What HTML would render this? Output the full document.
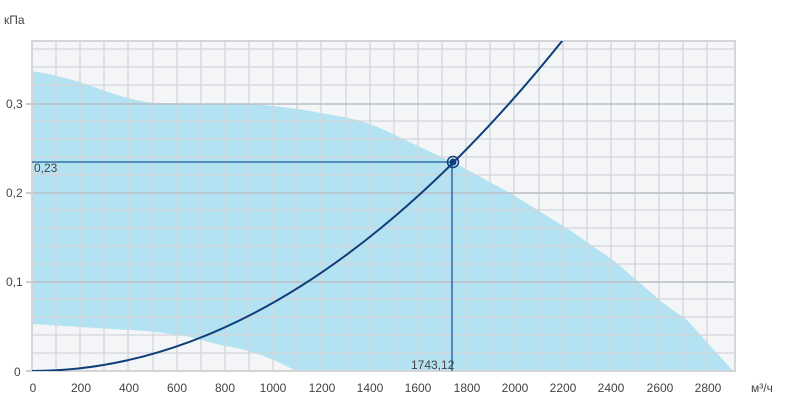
<!DOCTYPE html><html><head><meta charset="utf-8"><style>body{margin:0;background:#fff}svg{display:block;font-family:"Liberation Sans",sans-serif}</style></head><body>
<svg width="785" height="401" viewBox="0 0 785 401">
<rect x="32" y="41" width="703" height="330" fill="#f4f5f7"/>
<defs><clipPath id="c"><rect x="32" y="41" width="703" height="330"/></clipPath></defs>
<path d="M32,71 C60,76 75,80 100,89 C120,96 135,101 153,103 L249,104 C280,106 300,109 321,113 C345,117 360,120 375,126 C395,134 420,148 455,163 L510,193 L565,227 L613,260 L640,283 L663,303 L687,320 L733,371 L297,371 C285,366 280,362 273,360 C255,352 240,348 225,346 C200,340 190,336 177,335 C150,331 135,330 128,330 L80,327 L32,324 Z" fill="#b3e3f2"/>
<g stroke="#d3d5d9" stroke-width="1.3">
<path d="M56,41V371M80,41V371M104,41V371M128,41V371M153,41V371M177,41V371M201,41V371M225,41V371M249,41V371M273,41V371M297,41V371M321,41V371M346,41V371M370,41V371M394,41V371M418,41V371M442,41V371M466,41V371M490,41V371M514,41V371M539,41V371M563,41V371M587,41V371M611,41V371M635,41V371M659,41V371M683,41V371M707,41V371"/>
<path d="M32,49H735M32,67H735M32,85H735M32,121H735M32,139H735M32,157H735M32,175H735M32,210H735M32,228H735M32,246H735M32,264H735M32,299H735M32,317H735M32,335H735M32,353H735"/>
</g>
<g stroke="#b9bec6" stroke-width="1.5"><path d="M26,104H735M26,193H735M26,282H735M26,371H735"/></g>
<rect x="32" y="41" width="703" height="330" fill="none" stroke="#d3d5d9" stroke-width="2"/>
<g stroke="#1a5a96" stroke-width="1.3"><path d="M32,162H452M452,162V371"/></g>
<path d="M32,371 Q297.2,371 562.4,40.6" fill="none" stroke="#0e3f7a" stroke-width="2" clip-path="url(#c)"/>
<circle cx="453" cy="162" r="5.5" fill="none" stroke="#0e3f7a" stroke-width="1.5"/>
<circle cx="453" cy="162" r="3.5" fill="#0e3f7a"/>
<g font-size="12" fill="#444">
<text x="4" y="24">кПа</text>
<text x="6" y="108">0,3</text><text x="6" y="197">0,2</text><text x="6" y="286">0,1</text><text x="14" y="376">0</text>
<text x="34" y="172">0,23</text>
<text x="411" y="369">1743,12</text>
<g text-anchor="middle"><text x="33" y="392">0</text><text x="81" y="392">200</text><text x="129" y="392">400</text><text x="177" y="392">600</text><text x="225" y="392">800</text><text x="273" y="392">1000</text><text x="322" y="392">1200</text><text x="370" y="392">1400</text><text x="418" y="392">1600</text><text x="467" y="392">1800</text><text x="515" y="392">2000</text><text x="563" y="392">2200</text><text x="611" y="392">2400</text><text x="660" y="392">2600</text><text x="708" y="392">2800</text></g>
<text x="751" y="392">м³/ч</text>
</g>
</svg></body></html>
